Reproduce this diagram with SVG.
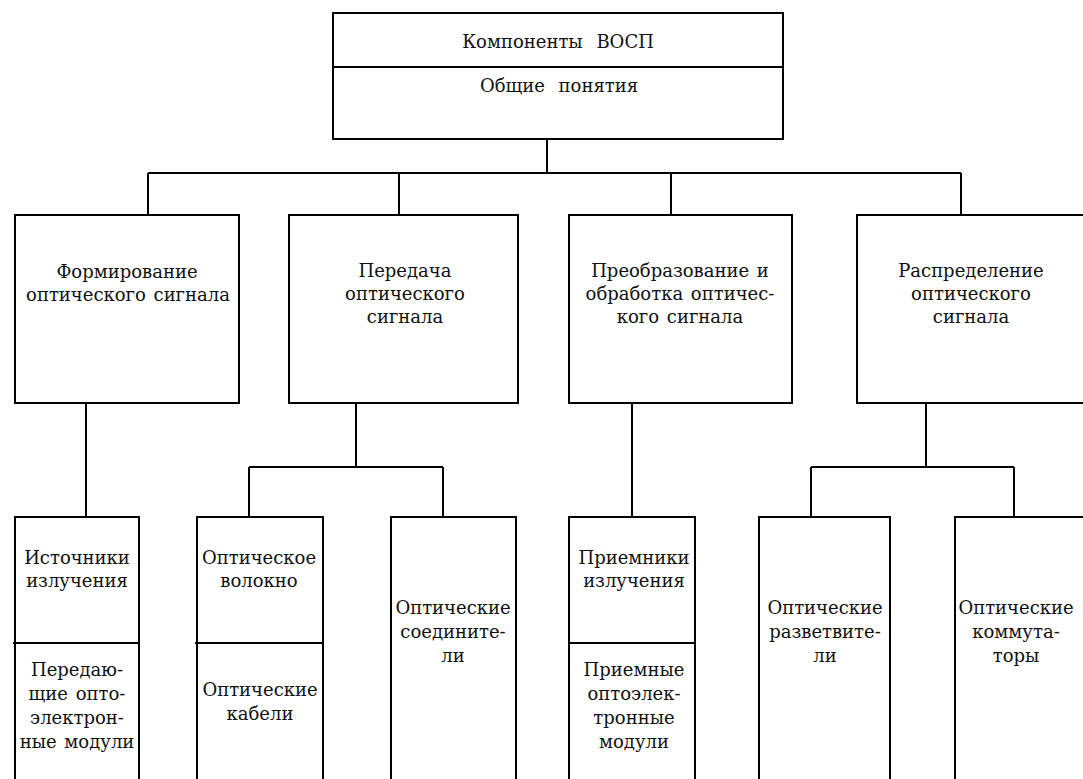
<svg xmlns="http://www.w3.org/2000/svg" width="1083" height="779" viewBox="0 0 1083 779">
<style>
.box{fill:none;stroke:#000;stroke-width:2}
.ln{fill:none;stroke:#000;stroke-width:2}
text{font-family:"DejaVu Serif","Liberation Serif",serif;font-size:18px;fill:#111;text-anchor:middle;word-spacing:2px}
</style>
<rect width="1083" height="779" fill="#fff"/>
<g id="connectors">
<path class="ln" d="M547 139V173M148 173H961M148 173V215M399 173V215M671 173V215M961 173V215"/>
<path class="ln" d="M86 403V517"/>
<path class="ln" d="M356 403V467M249 467H443M249 467V517M443 467V517"/>
<path class="ln" d="M632 403V517"/>
<path class="ln" d="M926 403V467M811 467H1014M811 467V517M1014 467V517"/>
</g>
<g id="root">
<rect class="box" x="333" y="13" width="450" height="126"/>
<line class="ln" x1="333" y1="67" x2="783" y2="67"/>
<text x="558" y="48" style="word-spacing:8px">Компоненты ВОСП</text>
<text x="559" y="92" style="word-spacing:8px">Общие понятия</text>
</g>
<g id="formirovanie">
<rect class="box" x="15" y="215" width="224" height="188"/>
<text x="127" y="278">Формирование</text>
<text x="128" y="301">оптического сигнала</text>
</g>
<g id="peredacha">
<rect class="box" x="289" y="215" width="229" height="188"/>
<text x="405" y="277">Передача</text>
<text x="405" y="300">оптического</text>
<text x="405" y="323">сигнала</text>
</g>
<g id="preobrazovanie">
<rect class="box" x="569" y="215" width="223" height="188"/>
<text x="680" y="277">Преобразование и</text>
<text x="680" y="300">обработка оптичес-</text>
<text x="680" y="323">кого сигнала</text>
</g>
<g id="raspredelenie">
<rect class="box" x="857" y="215" width="229" height="188"/>
<text x="971" y="277">Распределение</text>
<text x="971" y="300">оптического</text>
<text x="971" y="323">сигнала</text>
</g>
<g id="istochniki">
<rect class="box" x="15" y="517" width="124" height="275"/>
<line class="ln" x1="13" y1="643" x2="139" y2="643"/>
<text x="77" y="564">Источники</text>
<text x="77" y="587">излучения</text>
<text x="77" y="676">Передаю-</text>
<text x="77" y="700">щие опто-</text>
<text x="77" y="724">электрон-</text>
<text x="77" y="748">ные модули</text>
</g>
<g id="volokno">
<rect class="box" x="197" y="517" width="126" height="275"/>
<line class="ln" x1="195" y1="643" x2="323" y2="643"/>
<text x="259" y="564">Оптическое</text>
<text x="259" y="587">волокно</text>
<text x="260" y="696">Оптические</text>
<text x="260" y="720">кабели</text>
</g>
<g id="soediniteli">
<rect class="box" x="391" y="517" width="125" height="275"/>
<text x="453" y="614">Оптические</text>
<text x="453" y="638">соедините-</text>
<text x="453" y="662">ли</text>
</g>
<g id="priemniki">
<rect class="box" x="569" y="517" width="126" height="275"/>
<line class="ln" x1="569" y1="643" x2="695" y2="643"/>
<text x="634" y="564">Приемники</text>
<text x="634" y="587">излучения</text>
<text x="634" y="676">Приемные</text>
<text x="634" y="700">оптоэлек-</text>
<text x="634" y="724">тронные</text>
<text x="634" y="748">модули</text>
</g>
<g id="razvetviteli">
<rect class="box" x="759" y="517" width="131" height="275"/>
<text x="825" y="614">Оптические</text>
<text x="825" y="638">разветвите-</text>
<text x="825" y="662">ли</text>
</g>
<g id="kommutatory">
<rect class="box" x="955" y="517" width="131" height="275"/>
<text x="1016" y="614">Оптические</text>
<text x="1016" y="638">коммута-</text>
<text x="1016" y="662">торы</text>
</g>
</svg>
